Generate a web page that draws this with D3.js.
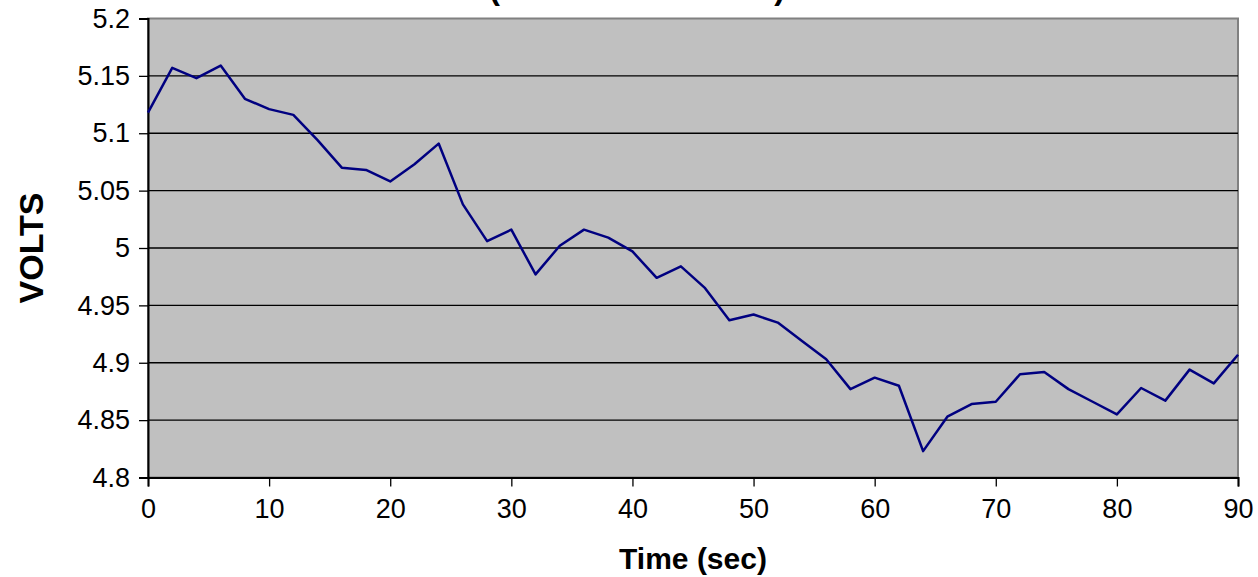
<!DOCTYPE html>
<html>
<head>
<meta charset="utf-8">
<script src="https://cdn.jsdelivr.net/npm/d3@7"></script>
<style>
  body { margin: 0; background: #fff; }
  svg { display: block; font-family: "Liberation Sans", Arial, sans-serif; }
</style>
</head>
<body>
<div id="chart"></div>
<script>
const times = [0, 2, 4, 6, 8, 10, 12, 14, 16, 18, 20, 22, 24, 26, 28, 30, 32, 34, 36, 38, 40, 42, 44,
  46, 48, 50, 52, 54, 56, 58, 60, 62, 64, 66, 68, 70, 72, 74, 76, 78, 80, 82, 84, 86, 88, 90];
const volts = [5.118, 5.157, 5.148, 5.159, 5.130, 5.121, 5.116, 5.094, 5.070, 5.068, 5.058, 5.073,
  5.091, 5.038, 5.006, 5.016, 4.977, 5.002, 5.016, 5.009, 4.997, 4.974, 4.984, 4.965, 4.937, 4.942,
  4.935, 4.919, 4.903, 4.877, 4.887, 4.880, 4.823, 4.853, 4.864, 4.866, 4.890, 4.892, 4.877, 4.866,
  4.855, 4.878, 4.867, 4.894, 4.882, 4.907];
const yTicks = [4.8, 4.85, 4.9, 4.95, 5, 5.05, 5.1, 5.15, 5.2];
const xTicks = [0, 10, 20, 30, 40, 50, 60, 70, 80, 90];

const width = 1258;
const height = 577;
const marginTop = 18.5;
const marginBottom = 99.5;
const marginLeft = 148;
const marginRight = 20;

const x = d3.scaleLinear()
  .domain([0, 90])
  .range([marginLeft, width - marginRight]);

const y = d3.scaleLinear()
  .domain([4.8, 5.2])
  .range([height - marginBottom, marginTop]);

const svg = d3.select('#chart').append('svg')
  .attr('width', width)
  .attr('height', height)
  .attr('viewBox', [0, 0, width, height]);

// plot area
svg.append('rect')
  .attr('x', x(0))
  .attr('y', y(5.2))
  .attr('width', x(90) - x(0))
  .attr('height', y(4.8) - y(5.2))
  .attr('fill', '#c0c0c0')
  .attr('stroke', '#808080')
  .attr('stroke-width', 2);

// gridlines
svg.append('g').selectAll()
  .data(yTicks.filter((d) => d > 4.8 && d < 5.2))
  .join('line')
    .attr('x1', x(0))
    .attr('x2', x(90))
    .attr('y1', (d) => y(d))
    .attr('y2', (d) => y(d))
    .attr('stroke', '#000')
    .attr('stroke-width', 1.3);

const axisY = svg.append('g')
  .attr('transform', `translate(${marginLeft}, 0)`)
  .call(d3.axisLeft(y).tickValues(yTicks).tickFormat(d3.format('~g')).tickSize(9).tickPadding(9));

const axisX = svg.append('g')
  .attr('transform', `translate(0, ${height - marginBottom})`)
  .call(d3.axisBottom(x).tickValues(xTicks).tickFormat(d3.format('d')).tickSize(9).tickPadding(12));

[axisY, axisX].forEach((g) => {
  g.selectAll('text')
    .attr('font-size', 27)
    .attr('font-family', '"Liberation Sans", Arial, sans-serif')
    .attr('fill', '#000');
  g.selectAll('line').attr('stroke', '#000').attr('stroke-width', 1.3);
  g.select('.domain').attr('stroke', '#000').attr('stroke-width', 2);
});

// data line
const line = d3.line()
  .x((d, i) => x(times[i]))
  .y((d) => y(d));

svg.append('path')
  .datum(volts)
  .attr('d', line)
  .attr('fill', 'none')
  .attr('stroke', '#000080')
  .attr('stroke-width', 2.5)
  .attr('stroke-linejoin', 'round');

// titles (chart title is clipped at the top edge, as in the source)
svg.append('text')
  .attr('x', 637)
  .attr('y', -1)
  .attr('text-anchor', 'middle')
  .attr('font-size', 32)
  .attr('font-weight', 'bold')
  .text('(LOAD TEST DATA)');

svg.append('text')
  .attr('x', (x(0) + x(90)) / 2)
  .attr('y', 569)
  .attr('text-anchor', 'middle')
  .attr('font-size', 30)
  .attr('font-weight', 'bold')
  .text('Time (sec)');

svg.append('text')
  .attr('transform', `translate(43, ${(y(4.8) + y(5.2)) / 2}) rotate(-90)`)
  .attr('text-anchor', 'middle')
  .attr('font-size', 34)
  .attr('font-weight', 'bold')
  .text('VOLTS');
</script>
</body>
</html>
